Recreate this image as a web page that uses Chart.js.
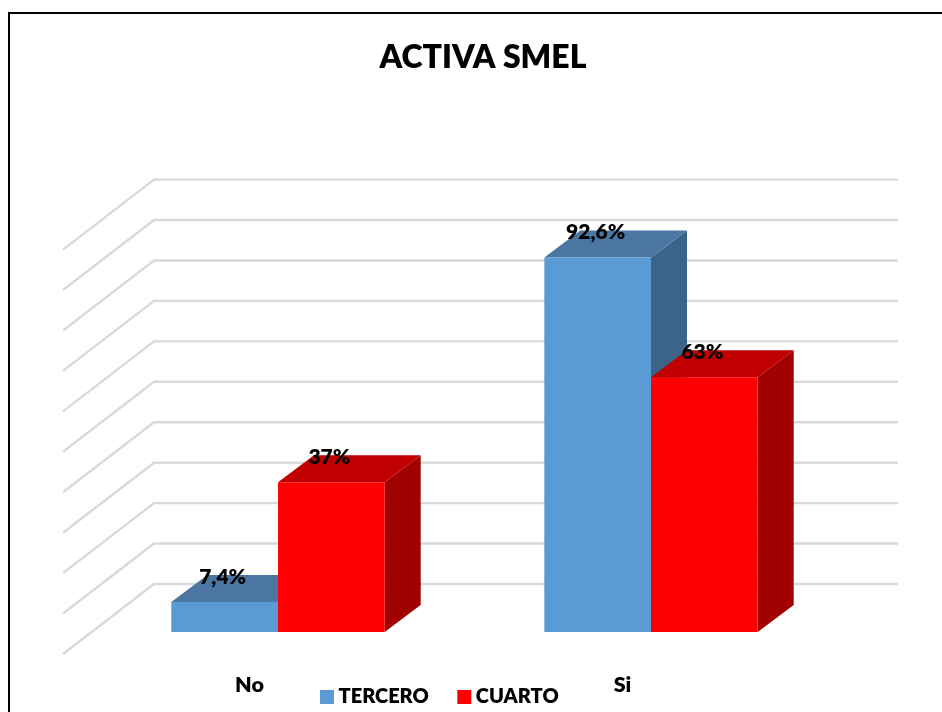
<!DOCTYPE html>
<html>
<head>
<meta charset="utf-8">
<style>
  html, body { margin: 0; padding: 0; background: #fff; overflow: hidden; }
  #marco { position: absolute; left: 8px; top: 12px; width: 1200px; height: 1200px; border: 2px solid #000; }
  #grafico { position: absolute; left: 0; top: 0; }
</style>
<script src="https://cdn.jsdelivr.net/npm/chart.js@4"></script>
</head>
<body>
<div id="marco"></div>
<canvas id="grafico" width="942" height="712"></canvas>
<script>
const categorias = ["No", "Si"];
const tercero = [7.4, 92.6];
const cuarto = [37, 63];

const fuente = "Lato, 'Open Sans', sans-serif";
const grosor = "800";

// desplazamientos de la perspectiva
const fondoBarra = { x: 36, y: -27 };
const paredFondo = { x: 62.5, y: -48 };
const sueloFrente = { x: -28.5, y: 22 };
const finRejilla = 60.5;

const caras = [
  { arriba: "#4A76A1", lado: "#3B6488" },
  { arriba: "#C00000", lado: "#A00000" }
];

function poligono(ctx, puntos, color) {
  ctx.fillStyle = color;
  ctx.beginPath();
  puntos.forEach((p, i) => i ? ctx.lineTo(p[0], p[1]) : ctx.moveTo(p[0], p[1]));
  ctx.closePath();
  ctx.fill();
}

const rejilla3d = {
  id: "rejilla3d",
  beforeDatasetsDraw(chart) {
    const ctx = chart.ctx;
    const escalaY = chart.scales.y;
    const area = chart.chartArea;
    ctx.save();
    ctx.strokeStyle = "#D9D9D9";
    ctx.lineWidth = 2.4;
    escalaY.ticks.forEach(t => {
      const y = escalaY.getPixelForValue(t.value);
      ctx.beginPath();
      ctx.moveTo(area.left + sueloFrente.x, y + sueloFrente.y);
      ctx.lineTo(area.left + paredFondo.x, y + paredFondo.y);
      ctx.lineTo(area.right + finRejilla, y + paredFondo.y);
      ctx.stroke();
    });
    ctx.restore();
  }
};

const barras3d = {
  id: "barras3d",
  beforeDatasetsDraw(chart) {
    const ctx = chart.ctx;
    chart.data.datasets.forEach((d, i) => {
      chart.getDatasetMeta(i).data.forEach(barra => {
        const izq = barra.x - barra.width / 2;
        const der = barra.x + barra.width / 2;
        const dx = fondoBarra.x;
        const dy = fondoBarra.y;
        poligono(ctx, [[der, barra.y], [der + dx, barra.y + dy], [der + dx, barra.base + dy], [der, barra.base]], caras[i].lado);
        poligono(ctx, [[izq, barra.y], [izq + dx, barra.y + dy], [der + dx, barra.y + dy], [der, barra.y]], caras[i].arriba);
      });
    });
  },
  afterDatasetsDraw(chart) {
    const ctx = chart.ctx;
    ctx.save();
    ctx.fillStyle = "#000";
    ctx.font = grosor + " 21px " + fuente;
    ctx.textAlign = "center";
    ctx.textBaseline = "middle";
    chart.data.datasets.forEach((d, i) => {
      chart.getDatasetMeta(i).data.forEach((barra, j) => {
        const texto = String(d.data[j]).replace(".", ",") + "%";
        ctx.fillText(texto, barra.x - 2, barra.y - 25);
      });
    });
    ctx.restore();
  }
};

// la leyenda y el titulo no van donde los deja chart.js
const colocarCajas = {
  id: "colocarCajas",
  afterLayout(chart) {
    const leyenda = chart.legend;
    const relleno = leyenda.options.labels.padding;
    leyenda.left = 325.5 - relleno;
    leyenda.right = 942;
    leyenda.top = 687 - relleno;
    leyenda.bottom = 712;
    chart.titleBlock.left += 18.5;
    chart.titleBlock.right += 18.5;
  }
};

document.addEventListener("DOMContentLoaded", () => {
  new Chart(document.getElementById("grafico"), {
    type: "bar",
    data: {
      labels: categorias,
      datasets: [
        { label: "TERCERO", data: tercero, backgroundColor: "#5B9BD5" },
        { label: "CUARTO", data: cuarto, backgroundColor: "#FF0000" }
      ]
    },
    options: {
      responsive: false,
      animation: false,
      layout: { padding: { left: 91.5, right: 104.5, top: 0, bottom: 13.6 } },
      datasets: { bar: { categoryPercentage: 0.572, barPercentage: 1, borderWidth: 0 } },
      scales: {
        x: {
          afterFit: escala => { escala.height = 66.4; },
          grid: { display: false, drawTicks: false },
          border: { display: false },
          ticks: {
            color: "#000",
            padding: 40,
            labelOffset: -28.5,
            maxRotation: 0,
            font: { family: fuente, size: 21.5, weight: grosor }
          }
        },
        y: { display: false, min: 0, max: 100, ticks: { stepSize: 10 } }
      },
      plugins: {
        title: {
          display: true,
          text: "ACTIVA SMEL",
          color: "#000",
          font: { family: fuente, size: 32, weight: grosor },
          padding: { top: 38, bottom: 87.2 }
        },
        legend: {
          position: "top",
          align: "start",
          labels: {
            color: "#000",
            font: { family: fuente, size: 20, weight: grosor },
            usePointStyle: true,
            pointStyle: "rect",
            boxWidth: 3,
            boxHeight: 14,
            padding: 34
          }
        },
        tooltip: { enabled: false }
      }
    },
    plugins: [rejilla3d, barras3d, colocarCajas]
  });
});
</script>
</body>
</html>
